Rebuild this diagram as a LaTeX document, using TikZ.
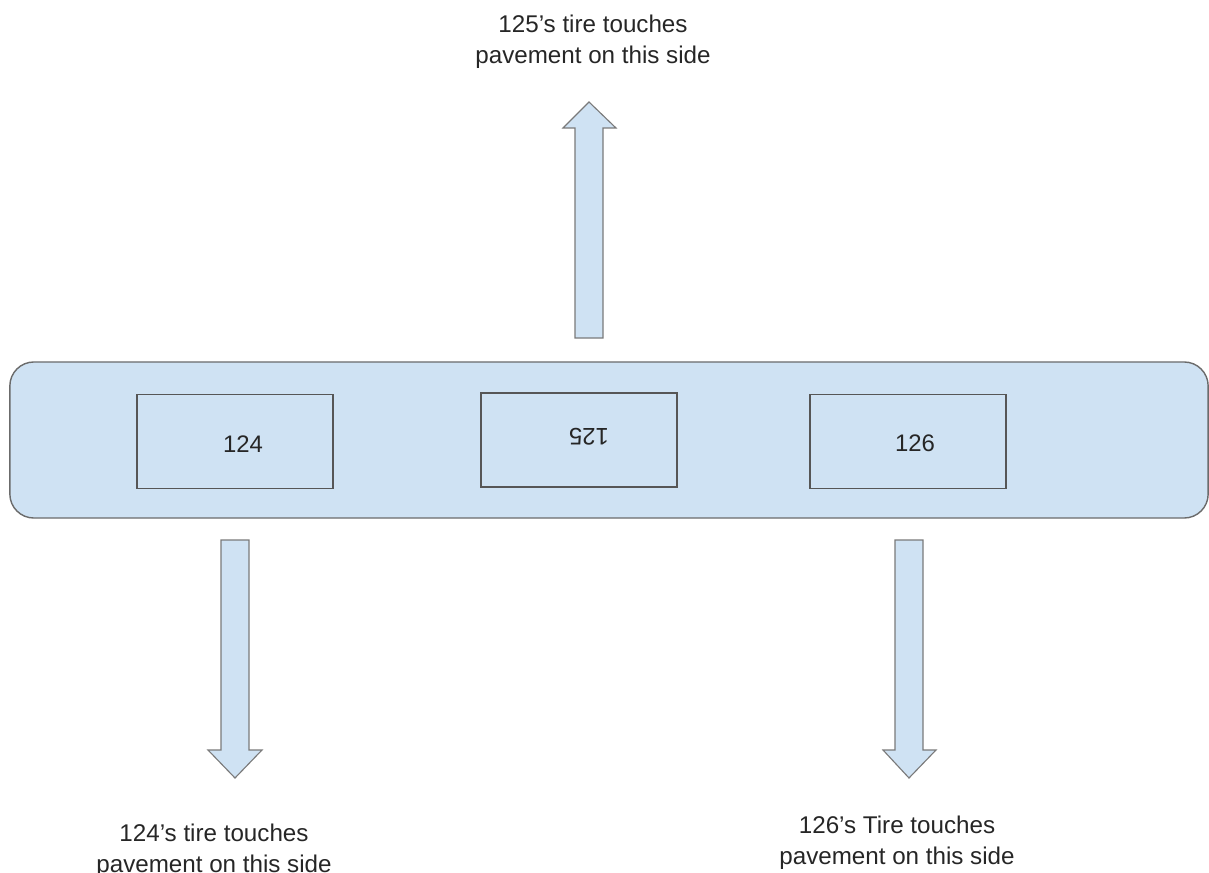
\documentclass[tikz,border=0pt]{standalone}
\usepackage{fontspec}
\setmainfont{Liberation Sans}
\definecolor{padblue}{HTML}{CFE2F3}
\definecolor{edgegray}{HTML}{6B6B6B}
\tikzset{
  bar/.style={draw=edgegray, fill=padblue, line width=1pt, rounded corners=0.6cm,
    minimum width=29.95cm, minimum height=3.9cm, inner sep=0pt},
  tirebox/.style={draw=edgegray!80!black, line width=1.1pt, minimum width=4.9cm,
    minimum height=2.35cm, inner sep=0pt},
  blockarrow/.style={draw=edgegray!90, fill=padblue, line width=0.8pt, line join=miter},
  numtext/.style={font=\fontsize{17}{20}\selectfont, text=black!85, inner sep=0pt},
  sidetext/.style={font=\fontsize{17.2}{22}\selectfont, text=black!85, align=center, inner sep=0pt}
}
\begin{document}
\begin{tikzpicture}[x=0.025cm, y=-0.025cm]
        \useasboundingbox (0,0) rectangle (1209,873);
        % the pad with the three tires
        \node[bar] (pad) at (609,440) {};
        \node[tirebox] (box124) at (235,441.5) {};
        \node[tirebox] (box125) at (579,440) {};
        \node[tirebox] (box126) at (908,441.5) {};
        \node[numtext] (num124) at (243,444) {124};
        \node[numtext, rotate=180] (num125) at (589,437) {125};
        \node[numtext] (num126) at (915,443) {126};
        % block arrows
        \draw[blockarrow] (575,338) -- (575,128) -- (563,128) -- (589,102) -- (616,128) -- (603,128) -- (603,338) -- cycle;
        \draw[blockarrow] (221,540) -- (221,750) -- (208,750) -- (235,778) -- (262,750) -- (249,750) -- (249,540) -- cycle;
        \draw[blockarrow] (895,540) -- (895,750) -- (883,750) -- (909,778) -- (936,750) -- (923,750) -- (923,540) -- cycle;
        % labels
        \node[sidetext] (side125) at (593,42) {125's tire touches\\pavement on this side};
        \node[sidetext] (side124) at (214,851) {124's tire touches\\pavement on this side};
        \node[sidetext] (side126) at (897,843) {126's Tire touches\\pavement on this side};
    \end{tikzpicture}
\end{document}
